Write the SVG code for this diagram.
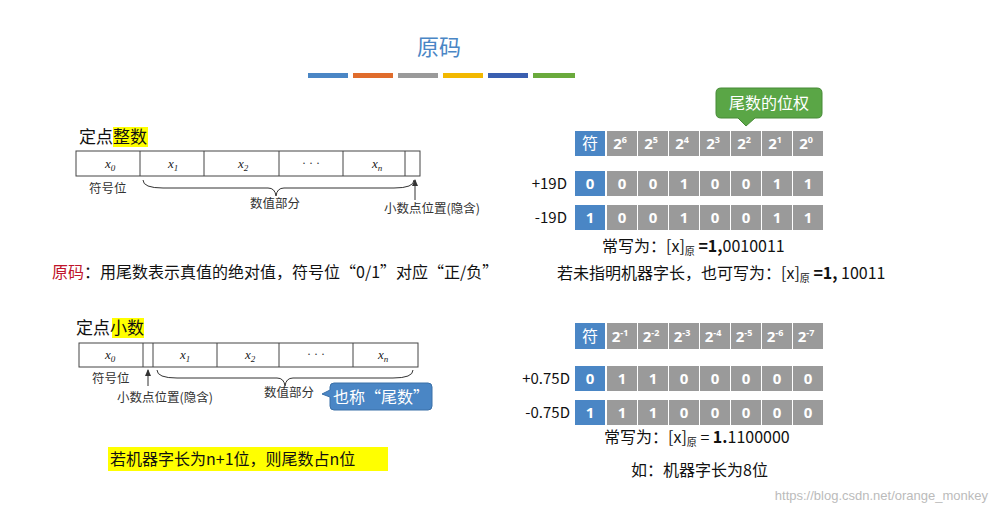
<svg xmlns="http://www.w3.org/2000/svg" width="999" height="513" viewBox="0 0 999 513">
<style>
.t{font-family:"Noto Sans CJK SC","Noto Sans",sans-serif;fill:#111}
.s{font-family:"Liberation Serif",serif;font-style:italic;font-size:13px;fill:#222}
.c{fill:#9a9a9a}.b{fill:#4a86c5}
.w{font-family:"Open Sans","Noto Sans",sans-serif;font-weight:bold;font-size:15px;fill:#fff;text-anchor:middle}
.box{fill:none;stroke:#444;stroke-width:1}
.g{font-family:"Noto Sans CJK SC",sans-serif;font-size:12.5px;fill:#333}
.d{font-family:"Liberation Serif",serif;font-size:12px;fill:#333;text-anchor:middle}
</style>
<rect width="999" height="513" fill="#fff"/>
<text x="439" y="55" text-anchor="middle" class="t" style="font-size:22px;fill:#4a86c5">原码</text>
<g id="bars"><rect x="308" y="73" width="40" height="5" fill="#4a86c5"/><rect x="353" y="73" width="40" height="5" fill="#e06c2c"/><rect x="398" y="73" width="40" height="5" fill="#9a9a9a"/><rect x="443" y="73" width="40" height="5" fill="#f2b800"/><rect x="488" y="73" width="40" height="5" fill="#3a5fb0"/><rect x="533" y="73" width="42" height="5" fill="#6aaa3c"/></g>

<g id="int">
<rect x="113" y="127" width="35" height="20" fill="#ffff00"/>
<text x="79" y="143" class="t" font-size="17">定点整数</text>
<rect x="76" y="151" width="344" height="25" class="box"/>
<path d="M140 151V176M204 151V176M279 151V176M343 151V176M405 151V176" stroke="#444"/>
<text x="105" y="168" class="s">x<tspan font-size="9" dy="3">0</tspan></text>
<text x="168" y="168" class="s">x<tspan font-size="9" dy="3">1</tspan></text>
<text x="238" y="168" class="s">x<tspan font-size="9" dy="3">2</tspan></text>
<text x="311" y="167" class="d">· · ·</text>
<text x="372" y="168" class="s">x<tspan font-size="9" dy="3">n</tspan></text>
<text x="89" y="193" class="g">符号位</text>
<path d="M143 180q0 8 20 8h105q7 0 8 8q1-8 8-8h110q20 0 20-8" fill="none" stroke="#333"/>
<text x="275" y="208" class="g" text-anchor="middle">数值部分</text>
<path d="M415 200V180" stroke="#333"/><path d="M412 186l3-7 3 7z" fill="#333"/>
<text x="384" y="213" class="g">小数点位置(隐含)</text>
</g>

<text x="52" y="278" class="t" font-size="16"><tspan fill="#c0142a">原码</tspan>：用尾数表示真值的绝对值，符号位“0/1”对应“正/负”</text>

<g id="frac">
<rect x="112" y="318" width="32" height="20" fill="#ffff00"/>
<text x="76" y="334" class="t" font-size="17">定点小数</text>
<rect x="79" y="343" width="339" height="24" class="box"/>
<path d="M143 343V367M153 343V367M217 343V367M279 343V367M353 343V367" stroke="#444"/>
<text x="105" y="359" class="s">x<tspan font-size="9" dy="3">0</tspan></text>
<text x="180" y="359" class="s">x<tspan font-size="9" dy="3">1</tspan></text>
<text x="245" y="359" class="s">x<tspan font-size="9" dy="3">2</tspan></text>
<text x="316" y="358" class="d">· · ·</text>
<text x="378" y="359" class="s">x<tspan font-size="9" dy="3">n</tspan></text>
<text x="92" y="383" class="g">符号位</text>
<path d="M148 386V370" stroke="#333"/><path d="M145 376l3-7 3 7z" fill="#333"/>
<text x="117" y="402" class="g">小数点位置(隐含)</text>
<path d="M157 370q0 8 20 8h100q7 0 8 8q1-8 8-8h100q20 0 20-8" fill="none" stroke="#333"/>
<text x="264" y="397" class="g">数值部分</text>
</g>
<g id="callout-weiShu"><path d="M334 383h94q4 0 4 4v19q0 4-4 4h-94q-4 0-4-4v-9l-8-3 8-4v-3q0-4 4-4z" fill="#4a86c5" stroke="#3a70a8"/>
<text x="381" y="403" text-anchor="middle" class="t" font-size="16" style="fill:#fff">也称“尾数”</text></g>

<rect x="108" y="447" width="280" height="24" fill="#ffff00"/>
<text x="110" y="465" class="t" font-size="16">若机器字长为n+1位，则尾数占n位</text>

<g id="callout-weight"><path d="M721 88h96q5 0 5 5v20q0 5-5 5h-62l-9 8-8-8h-17q-5 0-5-5v-20q0-5 5-5z" fill="#5aa646" stroke="#468a36"/>
<text x="769" y="109" text-anchor="middle" class="t" font-size="16" style="fill:#fff">尾数的位权</text></g>

<g id="table1">
<rect x="575" y="131" width="30" height="25" class="b"/><rect x="607" y="131" width="30" height="25" class="c"/><rect x="638" y="131" width="30" height="25" class="c"/><rect x="669" y="131" width="30" height="25" class="c"/><rect x="700" y="131" width="30" height="25" class="c"/><rect x="731" y="131" width="30" height="25" class="c"/><rect x="762" y="131" width="30" height="25" class="c"/><rect x="793" y="131" width="30" height="25" class="c"/>
<text x="590" y="149" class="t" font-size="16" text-anchor="middle" style="fill:#fff">符</text>
<text y="149" class="w"><tspan x="620">2<tspan font-size="9" dy="-6">6</tspan></tspan><tspan x="651" dy="6">2<tspan font-size="9" dy="-6">5</tspan></tspan><tspan x="682" dy="6">2<tspan font-size="9" dy="-6">4</tspan></tspan><tspan x="713" dy="6">2<tspan font-size="9" dy="-6">3</tspan></tspan><tspan x="744" dy="6">2<tspan font-size="9" dy="-6">2</tspan></tspan><tspan x="775" dy="6">2<tspan font-size="9" dy="-6">1</tspan></tspan><tspan x="806" dy="6">2<tspan font-size="9" dy="-6">0</tspan></tspan></text>
<text x="567" y="189" class="t" font-size="15" text-anchor="end">+19D</text>
<rect x="575" y="171" width="30" height="25" class="b"/><rect x="607" y="171" width="216" height="25" class="c"/>
<path d="M637.5 171v25M668.5 171v25M699.5 171v25M730.5 171v25M761.5 171v25M792.5 171v25" stroke="#fff"/>
<text y="189" class="w"><tspan x="590">0</tspan><tspan x="622">0</tspan><tspan x="653">0</tspan><tspan x="684">1</tspan><tspan x="715">0</tspan><tspan x="746">0</tspan><tspan x="777">1</tspan><tspan x="808">1</tspan></text>
<text x="567" y="223" class="t" font-size="15" text-anchor="end">-19D</text>
<rect x="575" y="205" width="30" height="25" class="b"/><rect x="607" y="205" width="216" height="25" class="c"/>
<path d="M637.5 205v25M668.5 205v25M699.5 205v25M730.5 205v25M761.5 205v25M792.5 205v25" stroke="#fff"/>
<text y="223" class="w"><tspan x="590">1</tspan><tspan x="622">0</tspan><tspan x="653">0</tspan><tspan x="684">1</tspan><tspan x="715">0</tspan><tspan x="746">0</tspan><tspan x="777">1</tspan><tspan x="808">1</tspan></text>
<text x="602" y="252" class="t" font-size="16">常写为：[x]<tspan font-size="10" dy="3">原</tspan><tspan dy="-3" font-weight="bold"> =1,</tspan>0010011</text>
<text x="557" y="279" class="t" font-size="16">若未指明机器字长，也可写为：[x]<tspan font-size="10" dy="3">原</tspan><tspan dy="-3" font-weight="bold"> =1,</tspan> 10011</text>
</g>

<g id="table2">
<rect x="575" y="323" width="30" height="26" class="b"/><rect x="607" y="323" width="30" height="26" class="c"/><rect x="638" y="323" width="30" height="26" class="c"/><rect x="669" y="323" width="30" height="26" class="c"/><rect x="700" y="323" width="30" height="26" class="c"/><rect x="731" y="323" width="30" height="26" class="c"/><rect x="762" y="323" width="30" height="26" class="c"/><rect x="793" y="323" width="30" height="26" class="c"/>
<text x="590" y="342" class="t" font-size="16" text-anchor="middle" style="fill:#fff">符</text>
<text y="342" class="w"><tspan x="620">2<tspan font-size="9" dy="-6">-1</tspan></tspan><tspan x="651" dy="6">2<tspan font-size="9" dy="-6">-2</tspan></tspan><tspan x="682" dy="6">2<tspan font-size="9" dy="-6">-3</tspan></tspan><tspan x="713" dy="6">2<tspan font-size="9" dy="-6">-4</tspan></tspan><tspan x="744" dy="6">2<tspan font-size="9" dy="-6">-5</tspan></tspan><tspan x="775" dy="6">2<tspan font-size="9" dy="-6">-6</tspan></tspan><tspan x="806" dy="6">2<tspan font-size="9" dy="-6">-7</tspan></tspan></text>
<text x="570" y="384" class="t" font-size="15" text-anchor="end">+0.75D</text>
<rect x="575" y="366" width="30" height="25" class="b"/><rect x="607" y="366" width="216" height="25" class="c"/>
<path d="M637.5 366v25M668.5 366v25M699.5 366v25M730.5 366v25M761.5 366v25M792.5 366v25" stroke="#fff"/>
<text y="384" class="w"><tspan x="590">0</tspan><tspan x="622">1</tspan><tspan x="653">1</tspan><tspan x="684">0</tspan><tspan x="715">0</tspan><tspan x="746">0</tspan><tspan x="777">0</tspan><tspan x="808">0</tspan></text>
<text x="570" y="418" class="t" font-size="15" text-anchor="end">-0.75D</text>
<rect x="575" y="400" width="30" height="25" class="b"/><rect x="607" y="400" width="216" height="25" class="c"/>
<path d="M637.5 400v25M668.5 400v25M699.5 400v25M730.5 400v25M761.5 400v25M792.5 400v25" stroke="#fff"/>
<text y="418" class="w"><tspan x="590">1</tspan><tspan x="622">1</tspan><tspan x="653">1</tspan><tspan x="684">0</tspan><tspan x="715">0</tspan><tspan x="746">0</tspan><tspan x="777">0</tspan><tspan x="808">0</tspan></text>
<text x="604" y="443" class="t" font-size="16">常写为：[x]<tspan font-size="10" dy="3">原</tspan><tspan dy="-3"> = </tspan><tspan font-weight="bold">1.</tspan>1100000</text>
<text x="631" y="476" class="t" font-size="16">如：机器字长为8位</text>
</g>
<text x="988" y="500" text-anchor="end" font-family="Liberation Sans,sans-serif" font-size="13" fill="#bbb">https://blog.csdn.net/orange_monkey</text>
</svg>
